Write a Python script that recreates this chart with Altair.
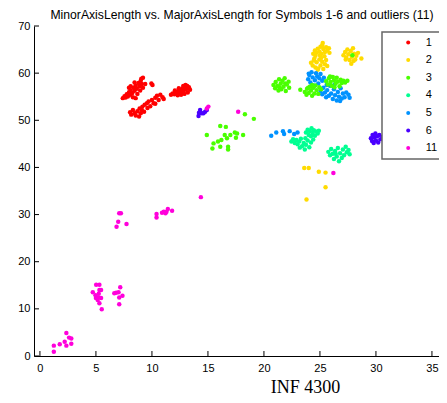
import altair as alt
import pandas as pd

classes = ["1", "2", "3", "4", "5", "6", "11"]
colors = ["#FF0000", "#FFDB00", "#49FF00", "#00FF92", "#0092FF", "#4900FF", "#FF00DB"]
x_ticks = [0, 5, 10, 15, 20, 25, 30, 35]
y_ticks = [0, 10, 20, 30, 40, 50, 60, 70]
title_text = "MinorAxisLength vs. MajorAxisLength for Symbols 1-6 and outliers (11)"
x_title = "INF 4300"

# symbol 1 (red)
pts_1 = [
    [7.40, 54.70], [7.55, 55.10], [7.65, 54.85], [7.75, 55.50], [7.85, 55.05], [7.95, 55.95],
    [8.05, 55.40], [8.10, 56.40], [8.25, 55.80], [8.35, 56.90], [8.45, 56.25], [8.55, 57.40],
    [8.65, 56.70], [8.80, 57.90], [8.90, 57.20], [9.00, 58.40], [9.10, 57.70], [9.20, 59.00],
    [8.10, 57.20], [8.30, 54.90], [8.55, 54.70], [8.70, 55.60], [8.95, 56.30], [9.20, 56.90],
    [9.40, 57.70], [9.95, 57.80], [10.05, 57.50], [7.95, 56.90], [8.45, 58.00], [9.05, 58.80],
    [8.05, 51.70], [8.15, 51.20], [8.30, 52.20], [8.45, 51.50], [8.55, 51.00], [8.70, 51.90],
    [8.85, 50.80], [8.90, 52.50], [9.00, 51.50], [9.15, 52.90], [9.30, 51.80], [9.35, 53.30],
    [9.55, 53.60], [9.70, 54.00], [9.85, 53.00], [10.00, 54.30], [10.15, 53.60], [10.30, 54.80],
    [10.45, 55.20], [10.60, 54.30], [10.75, 55.40], [10.95, 54.90], [11.05, 54.50], [10.30, 53.50],
    [9.60, 52.60], [9.10, 52.20],
    [11.70, 55.40], [11.85, 55.70], [12.00, 55.50], [12.10, 55.95], [12.25, 55.60], [12.35, 56.15],
    [12.45, 55.80], [12.55, 56.50], [12.65, 56.00], [12.75, 56.80], [12.85, 56.30], [12.95, 57.10],
    [13.05, 56.60], [13.15, 57.30], [13.30, 57.00], [13.40, 56.50], [13.20, 55.90], [12.90, 55.60],
    [12.60, 55.40], [12.30, 55.30], [12.05, 56.30], [12.40, 56.80], [13.00, 57.50], [12.80, 57.30],
]

# symbol 2 (yellow)
pts_2 = [
    [24.40, 64.10], [24.55, 64.80], [24.70, 64.30], [24.80, 65.20], [24.95, 64.60], [25.05, 65.60],
    [25.15, 64.10], [25.25, 66.40], [25.30, 65.10], [25.45, 64.50], [25.55, 65.50], [25.65, 64.80],
    [25.80, 65.30], [25.85, 64.30], [25.00, 63.80], [24.60, 63.70], [25.40, 63.60], [25.20, 65.90],
    [24.20, 62.20], [24.35, 61.60], [24.45, 62.70], [24.60, 61.20], [24.70, 62.30], [24.85, 61.00],
    [24.95, 62.90], [25.05, 61.60], [25.20, 62.40], [25.30, 60.90], [25.45, 61.90], [25.55, 62.80],
    [25.65, 61.50], [24.80, 60.70], [25.10, 63.20], [24.50, 63.10],
    [27.10, 63.80], [27.25, 64.50], [27.35, 63.30], [27.45, 65.00], [27.55, 64.00], [27.65, 62.80],
    [27.75, 64.70], [27.85, 63.50], [27.95, 65.30], [28.05, 64.10], [28.15, 62.90], [28.25, 63.70],
    [28.40, 64.30], [27.80, 62.00], [28.70, 63.10], [27.30, 62.90], [28.00, 62.60],
    [23.60, 39.90], [24.00, 39.90], [24.90, 39.10], [25.50, 38.90], [25.50, 35.80], [23.80, 33.20],
]

# symbol 3 (green)
pts_3 = [
    [18.30, 51.30], [19.10, 50.30], [16.10, 48.80], [16.60, 48.60], [14.90, 46.90], [17.40, 47.40],
    [17.60, 47.20], [18.14, 46.90], [16.50, 46.90], [16.70, 46.20], [16.20, 45.80], [15.90, 45.50],
    [17.50, 46.30], [15.50, 45.10], [15.40, 44.00], [16.10, 44.40], [16.80, 44.40], [16.80, 43.80],
    [17.00, 46.90],
    [20.85, 57.50], [21.00, 56.80], [21.05, 58.10], [21.20, 57.30], [21.30, 56.30], [21.35, 58.70],
    [21.50, 57.80], [21.55, 56.60], [21.65, 58.40], [21.75, 57.10], [21.85, 58.90], [21.95, 56.20],
    [22.05, 57.60], [22.20, 58.20], [22.25, 56.90], [21.40, 57.00], [21.90, 57.80],
    [23.25, 56.50],
    [23.65, 56.00], [23.80, 55.40], [23.85, 56.70], [24.00, 55.80], [24.10, 57.10], [24.20, 56.30],
    [24.30, 55.20], [24.40, 56.90], [24.50, 55.70], [24.60, 57.40], [24.70, 56.40], [24.85, 55.60],
    [24.95, 57.00], [25.10, 56.60], [24.30, 57.50], [23.95, 56.90],
    [25.55, 58.30], [25.70, 57.60], [25.80, 58.90], [25.95, 58.10], [26.05, 57.30], [26.15, 59.20],
    [26.25, 58.50], [26.40, 57.80], [26.50, 59.00], [26.60, 58.20], [26.75, 57.20], [26.85, 58.60],
    [26.95, 57.90], [27.10, 58.40], [27.25, 58.00], [27.45, 58.40], [26.30, 57.00], [25.90, 59.30],
    [27.90, 63.80],
]

# symbol 4 (teal)
pts_4 = [
    [23.75, 47.40], [23.90, 48.00], [24.00, 46.90], [24.10, 47.70], [24.25, 48.30], [24.35, 47.10],
    [24.45, 47.90], [24.55, 46.70], [24.65, 47.60], [24.80, 47.20], [24.90, 47.80], [24.20, 46.60],
    [22.45, 45.50], [22.60, 46.00], [22.75, 45.20], [22.90, 45.80], [23.00, 44.90], [23.15, 45.50],
    [23.30, 46.10], [23.40, 44.50], [23.55, 45.20], [23.65, 43.80], [23.75, 44.80], [23.90, 45.70],
    [24.05, 44.30], [24.20, 45.30], [24.40, 45.90], [23.20, 44.20], [23.70, 46.20],
    [25.75, 43.30], [25.90, 42.60], [26.00, 43.90], [26.15, 42.90], [26.25, 41.80], [26.35, 43.50],
    [26.50, 42.30], [26.60, 44.10], [26.70, 41.30], [26.80, 43.00], [26.95, 42.00], [27.05, 43.80],
    [27.15, 42.60], [27.30, 44.40], [27.40, 43.20], [27.55, 43.70], [27.65, 42.80], [26.40, 42.90],
]

# symbol 5 (blue)
pts_5 = [
    [20.65, 46.70], [21.10, 47.40], [21.70, 47.70], [21.80, 47.10], [22.30, 47.70], [22.70, 47.10],
    [23.00, 47.40],
    [23.95, 58.70], [24.05, 59.60], [24.15, 58.00], [24.25, 60.20], [24.35, 59.10], [24.45, 57.40],
    [24.55, 58.50], [24.65, 60.00], [24.75, 59.30], [24.85, 57.80], [24.95, 58.90], [25.05, 59.80],
    [25.20, 58.40], [25.35, 59.00], [24.40, 57.00], [24.00, 59.90],
    [25.05, 56.20], [25.20, 55.50], [25.30, 56.90], [25.45, 55.90], [25.55, 54.90], [25.65, 56.40],
    [25.80, 55.20], [25.90, 57.30], [26.00, 55.70], [26.15, 54.50], [26.25, 56.60], [26.35, 55.30],
    [26.50, 54.20], [26.60, 56.00], [26.70, 55.00], [26.85, 56.80], [26.95, 54.60], [27.05, 55.70],
    [27.20, 54.90], [27.35, 55.90], [27.55, 55.40], [27.65, 54.80], [26.30, 57.60], [25.60, 57.50],
    [26.80, 54.10],
]

# symbol 6 (violet)
pts_6 = [
    [14.30, 52.20], [14.16, 50.90], [14.60, 51.50], [14.90, 52.20], [14.45, 51.50], [14.75, 51.80],
    [14.20, 51.60],
    [29.55, 46.20], [29.65, 45.60], [29.70, 46.90], [29.80, 45.20], [29.85, 46.40], [29.95, 47.20],
    [30.00, 45.70], [30.10, 46.60], [30.20, 45.30], [30.30, 46.90], [30.40, 46.00], [30.60, 46.50],
]

# outliers 11 (magenta)
pts_11 = [
    [1.24, 2.20], [1.24, 0.90], [1.77, 2.50], [2.21, 3.00], [2.36, 4.90], [2.36, 2.20],
    [2.60, 3.90], [2.80, 3.70], [2.80, 2.60],
    [5.02, 15.10], [5.31, 15.10], [4.72, 13.50], [4.96, 12.90], [5.20, 12.40], [5.31, 14.00],
    [5.46, 14.00], [5.16, 11.90], [5.31, 11.20], [5.52, 9.90], [5.46, 12.30], [5.00, 12.30],
    [5.25, 13.20],
    [6.64, 13.30], [7.02, 13.50], [7.17, 14.60], [7.37, 12.80], [7.08, 12.40], [7.08, 11.00],
    [6.80, 13.40],
    [7.08, 30.30], [7.23, 30.30], [6.99, 28.50], [6.84, 27.40], [7.73, 28.00],
    [10.41, 30.10], [10.41, 29.40], [11.06, 30.60], [11.21, 30.30], [11.42, 31.20], [11.80, 30.80],
    [10.90, 30.40], [11.30, 30.60], [14.37, 33.70],
    [15.04, 52.90], [14.90, 52.50], [17.70, 51.80], [26.20, 38.80],
]

groups = [("1", pts_1), ("2", pts_2), ("4", pts_4), ("5", pts_5), ("6", pts_6), ("11", pts_11), ("3", pts_3)]
rows = []
for cls, pts in groups:
    for px, py in pts:
        rows.append({"x": px, "y": py, "cls": cls, "ord": len(rows)})
df = pd.DataFrame(rows)

FONT = "Liberation Sans"
x_scale = alt.Scale(domain=[-0.53, 35.63], nice=False, zero=False)
y_scale = alt.Scale(domain=[0, 70], nice=False, zero=False)

x_axis = alt.Axis(values=x_ticks, grid=False, ticks=False, domainColor="black", domainWidth=1,
                  labelFont=FONT, labelFontSize=11, labelColor="black", labelPadding=6,
                  labelFlush=False, title=x_title, titleFont="Liberation Serif", titleFontSize=18,
                  titleFontWeight="normal", titleColor="black", titleX=271, titleY=36,
                  titleAlign="center", titleBaseline="alphabetic")
y_axis = alt.Axis(values=y_ticks, grid=False, ticks=False, domainColor="black", domainWidth=1,
                  labelFont=FONT, labelFontSize=11, labelColor="black", labelPadding=4,
                  labelFlush=False, title=None)

points = alt.Chart(df).mark_point(filled=True, shape="circle", size=20, opacity=1).encode(
    x=alt.X("x:Q", scale=x_scale, axis=x_axis),
    y=alt.Y("y:Q", scale=y_scale, axis=y_axis),
    color=alt.Color("cls:N", scale=alt.Scale(domain=classes, range=colors),
                    legend=alt.Legend(orient="none", legendX=348, legendY=6, title=None,
                                      fillColor="white", strokeColor="#666666", padding=5,
                                      symbolOffset=15.7, symbolType="circle", symbolSize=16,
                                      symbolStrokeWidth=0, labelFont=FONT, labelFontSize=11,
                                      labelColor="black", labelOffset=12, rowPadding=5.6,
                                      labelExpr="datum.label + '          '")),
    order=alt.Order("ord:Q"),
)

ytick_df = pd.DataFrame({"y": y_ticks})
xtick_df = pd.DataFrame({"x": x_ticks})

yticks = alt.Chart(ytick_df).mark_rule(color="black", strokeWidth=1).encode(
    y=alt.Y("y:Q", scale=y_scale, axis=y_axis),
    x=alt.value(0), x2=alt.value(5),
)
xticks = alt.Chart(xtick_df).mark_rule(color="black", strokeWidth=1).encode(
    x=alt.X("x:Q", scale=x_scale, axis=x_axis),
    y=alt.value(330), y2=alt.value(325),
)

chart = alt.layer(points, yticks, xticks).properties(
    width=405, height=330,
    title=alt.TitleParams(title_text, font=FONT, fontSize=12.2, fontWeight="normal",
                          color="black", anchor="middle", offset=0, dy=11, dx=5.5,
                          baseline="alphabetic"),
    padding={"left": 26, "top": 18, "right": 0, "bottom": 39},
    autosize=alt.AutoSizeParams(type="none"),
).configure_view(strokeWidth=0).configure_legend(strokeWidth=1.5)

chart.save("out.html", embed_options={"renderer": "svg", "actions": False})
